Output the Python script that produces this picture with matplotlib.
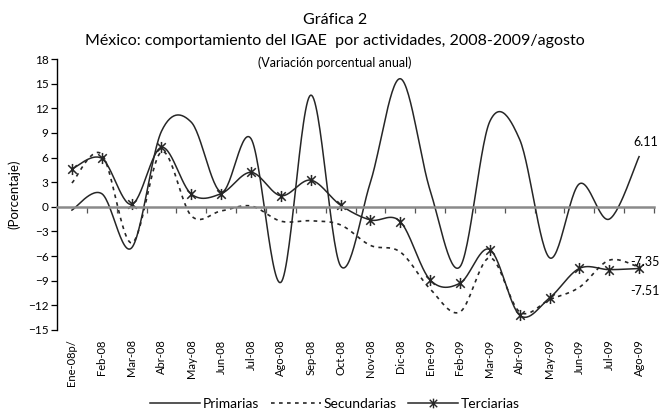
import numpy as np
import matplotlib
matplotlib.use("Agg")
import matplotlib.pyplot as plt
from matplotlib.path import Path
from matplotlib.lines import Line2D

plt.rcParams['font.family'] = ['Lato', 'DejaVu Sans']

# ── data ──────────────────────────────────────────────────────────────────────
months = ["Ene-08p/", "Feb-08", "Mar-08", "Abr-08", "May-08", "Jun-08", "Jul-08",
          "Ago-08", "Sep-08", "Oct-08", "Nov-08", "Dic-08", "Ene-09", "Feb-09",
          "Mar-09", "Abr-09", "May-09", "Jun-09", "Jul-09", "Ago-09"]
primarias = [-0.4, 1.6, -5.0, 9.2, 10.3, 1.8, 8.3, -9.2, 13.6, -7.2,
             3.0, 15.6, 2.0, -7.3, 10.4, 8.2, -6.2, 2.8, -1.5, 6.11]
secundarias = [2.9, 6.4, -4.4, 6.7, -1.1, -0.5, 0.1, -1.75, -1.7, -2.2,
               -4.7, -5.5, -10.0, -12.8, -6.2, -12.8, -11.3, -9.8, -6.5, -7.35]
terciarias = [4.6, 5.9, 0.3, 7.25, 1.55, 1.6, 4.2, 1.35, 3.25, 0.2,
              -1.6, -1.8, -8.9, -9.3, -5.2, -13.2, -11.1, -7.5, -7.65, -7.51]


def smooth(y, n=30):
    """Excel-style smoothed line: Catmull-Rom segments as cubic Beziers."""
    y = np.asarray(y, float)
    x = np.arange(len(y), dtype=float)
    pts = np.column_stack([x, y])
    ext = np.vstack([pts[0], pts, pts[-1]])
    t = np.linspace(0, 1, n)[:, None]
    out = []
    for i in range(len(pts) - 1):
        p0, p1, p2, p3 = ext[i], ext[i + 1], ext[i + 2], ext[i + 3]
        c1 = p1 + (p2 - p0) / 6
        c2 = p2 - (p3 - p1) / 6
        seg = ((1 - t) ** 3) * p1 + 3 * ((1 - t) ** 2) * t * c1 \
            + 3 * (1 - t) * t ** 2 * c2 + t ** 3 * p2
        out.append(seg if i == 0 else seg[1:])
    seg = np.vstack(out)
    return seg[:, 0], seg[:, 1]


# asterisk marker like Excel's "star": an X plus a vertical bar
star = Path([(-1, -1), (1, 1), (-1, 1), (1, -1), (0, -1.3), (0, 1.3)],
            [Path.MOVETO, Path.LINETO, Path.MOVETO, Path.LINETO, Path.MOVETO, Path.LINETO])

col = "#262626"
dots = (0, (2.2, 2.6))
fig = plt.figure(figsize=(6.7, 4.12), dpi=100)
ax = fig.add_axes([57 / 670, 1 - 330 / 412, 597 / 670, 271 / 412])

x = np.arange(len(months))
sx, sy = smooth(primarias)
ax.plot(sx, sy, color=col, lw=1.1)
sx, sy = smooth(secundarias)
ax.plot(sx, sy, color=col, lw=1.2, ls=dots)
sx, sy = smooth(terciarias)
ax.plot(sx, sy, color=col, lw=1.1)
ax.plot(x, terciarias, ls="none", marker=star, ms=8, mew=1.1, mec=col, color=col)

ax.set_xlim(-0.5, len(months) - 0.5)
ax.set_ylim(-15, 18)
ax.set_yticks(np.arange(-15, 19, 3))
ax.tick_params(axis="y", labelsize=8.5, length=4, width=0.9, direction="out", pad=2)
for s in ("top", "right"):
    ax.spines[s].set_visible(False)
ax.spines["left"].set_linewidth(1.0)
ax.spines["bottom"].set_position(("data", 0))
ax.spines["bottom"].set_color("#8a8a8a")
ax.spines["bottom"].set_linewidth(1.8)
ax.set_xticks(np.arange(0.5, len(months), 1.0))
ax.set_xticklabels([])
ax.tick_params(axis="x", length=4, width=0.9, color="#555555", direction="out")

for i, m in enumerate(months):
    ax.text(i, -0.035, m, transform=ax.get_xaxis_transform(), rotation=90,
            ha="center", va="top", fontsize=8)

ax.set_ylabel("(Porcentaje)", fontsize=9.5)
ax.yaxis.set_label_coords(-0.062, 0.5)

last = len(months) - 1
ax.annotate(f"{primarias[-1]:.2f}", (last, primarias[-1]), xytext=(-4, 6),
            textcoords="offset points", fontsize=9, ha="left", va="bottom")
ax.annotate(f"{secundarias[-1]:.2f}", (last, secundarias[-1]), xytext=(-6, 4),
            textcoords="offset points", fontsize=9, ha="left", va="center")
ax.annotate(f"{terciarias[-1]:.2f}", (last, terciarias[-1]), xytext=(-6, -16),
            textcoords="offset points", fontsize=9, ha="left", va="center")

fig.text(0.5, 1 - 20 / 412, "Gráfica 2", ha="center", va="center", fontsize=11.5)
fig.text(0.5, 1 - 41 / 412,
         "México: comportamiento del IGAE  por actividades, 2008-2009/agosto",
         ha="center", va="center", fontsize=11.5)
fig.text(0.5, 1 - 63 / 412, "(Variación porcentual anual)", ha="center",
         va="center", fontsize=9)

handles = [
    Line2D([], [], color=col, lw=1.1),
    Line2D([], [], color=col, lw=1.2, ls=dots),
    Line2D([], [], color=col, lw=1.1, marker=star, ms=7, mew=1.0),
]
fig.legend(handles, ["Primarias", "Secundarias", "Terciarias"],
           loc="center", bbox_to_anchor=(0.5, 1 - 404 / 412), ncol=3,
           frameon=False, fontsize=10, handlelength=3.6, columnspacing=0.8,
           handletextpad=0.2, borderpad=0)

fig.savefig("out.png", dpi=100)
